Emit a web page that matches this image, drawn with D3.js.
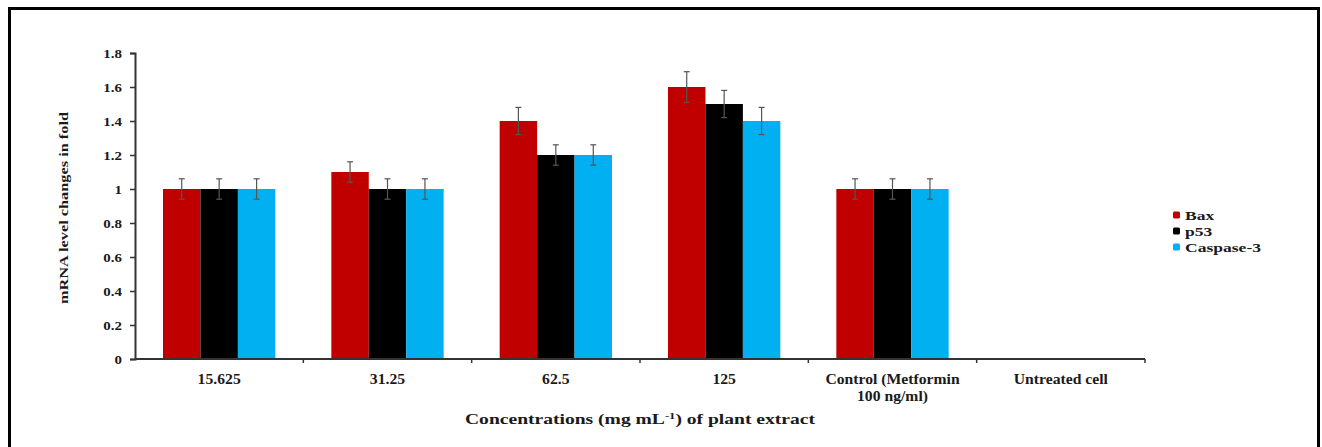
<!DOCTYPE html>
<html><head><meta charset="utf-8">
<script src="https://cdn.jsdelivr.net/npm/d3@7"></script>
<style>
html,body{margin:0;padding:0;background:#fff;}
svg{display:block;}
text{font-family:"Liberation Serif","Times New Roman",serif;font-weight:bold;fill:#1a1a1a;}
</style></head>
<body>
<svg id="chart" width="1322" height="447"></svg>
<script>
const categories = ["15.625", "31.25", "62.5", "125", "Control (Metformin|100 ng/ml)", "Untreated cell"];
const seriesNames = ["Bax", "p53", "Caspase-3"];
const baxValues = [1.0, 1.1, 1.4, 1.6, 1.0, null];
const p53Values = [1.0, 1.0, 1.2, 1.5, 1.0, null];
const caspaseValues = [1.0, 1.0, 1.2, 1.4, 1.0, null];
const baxErrors = [0.06, 0.06, 0.08, 0.09, 0.06, null];
const p53Errors = [0.06, 0.06, 0.06, 0.08, 0.06, null];
const caspaseErrors = [0.06, 0.06, 0.06, 0.08, 0.06, null];
const yTicks = [0, 0.2, 0.4, 0.6, 0.8, 1, 1.2, 1.4, 1.6, 1.8];
const colors = ["#C00000", "#000000", "#00B0F0"];

const seriesValues = [baxValues, p53Values, caspaseValues];
const seriesErrors = [baxErrors, p53Errors, caspaseErrors];

const svg = d3.select("#chart");

// frame
svg.append("rect").attr("x", 9.5).attr("y", 8.5).attr("width", 1309).attr("height", 470)
  .attr("fill", "none").attr("stroke", "#000").attr("stroke-width", 3);

const plotLeft = 135, plotRight = 1145, plotTop = 53, plotBottom = 359;
const x0 = d3.scaleBand().domain(categories).range([plotLeft, plotRight]).padding(0);
const bw = x0.bandwidth();
const x1 = d3.scaleBand().domain(seriesNames).range([28, bw - 28]).padding(0);
const y = d3.scaleLinear().domain([0, 1.8]).range([plotBottom, plotTop]);

// bars
const data = [];
categories.forEach((c, i) => {
  seriesNames.forEach((s, j) => {
    const v = seriesValues[j][i];
    if (v != null) data.push({c, s, v, e: seriesErrors[j][i], color: colors[j]});
  });
});

svg.append("g").selectAll("rect").data(data).join("rect")
  .attr("x", d => x0(d.c) + x1(d.s))
  .attr("y", d => y(d.v))
  .attr("width", x1.bandwidth())
  .attr("height", d => y(0) - y(d.v))
  .attr("fill", d => d.color);

// error bars
const eg = svg.append("g").attr("stroke", "#555").attr("stroke-width", 1.2);
data.forEach(d => {
  const cx = x0(d.c) + x1(d.s) + x1.bandwidth() / 2;
  eg.append("line").attr("x1", cx).attr("x2", cx).attr("y1", y(d.v + d.e)).attr("y2", y(d.v - d.e));
  eg.append("line").attr("x1", cx - 3).attr("x2", cx + 3).attr("y1", y(d.v + d.e)).attr("y2", y(d.v + d.e));
  eg.append("line").attr("x1", cx - 3).attr("x2", cx + 3).attr("y1", y(d.v - d.e)).attr("y2", y(d.v - d.e));
});

// y axis
const yAxis = d3.axisLeft(y).tickValues(yTicks).tickSize(5).tickPadding(8)
  .tickFormat(d => d3.format("~g")(d));
const yg = svg.append("g").attr("transform", `translate(${plotLeft},0)`).call(yAxis);
yg.select(".domain").attr("stroke", "#333").attr("stroke-width", 2);
yg.selectAll(".tick line").attr("stroke", "#333").attr("stroke-width", 1.5);
yg.selectAll(".tick text").style("font-size", "13px").attr("fill", "#1a1a1a")
  .style("font-family", "'Liberation Serif',serif").style("font-weight", "bold")
  .attr("transform", "scale(1.15,1)")
  .attr("x", -13 / 1.15);

// x axis line
svg.append("line").attr("x1", plotLeft).attr("x2", plotRight).attr("y1", plotBottom).attr("y2", plotBottom)
  .attr("stroke", "#333").attr("stroke-width", 2);
// x ticks at band boundaries
const bounds = categories.map(c => x0(c) + bw);
svg.append("g").selectAll("line").data(bounds).join("line")
  .attr("x1", d => d).attr("x2", d => d).attr("y1", plotBottom).attr("y2", plotBottom + 4)
  .attr("stroke", "#333").attr("stroke-width", 1.5);

// category labels
const cl = svg.append("g");
categories.forEach(c => {
  const lines = c.split("|");
  const cx = x0(c) + bw / 2;
  lines.forEach((t, k) => {
    cl.append("text").attr("transform", `translate(${cx},${384 + k * 17}) scale(1.12,1)`)
      .attr("text-anchor", "middle").style("font-size", "14px").text(t);
  });
});

// x title
const xt = svg.append("text").attr("transform", `translate(${(plotLeft + plotRight) / 2},424)`)
  .attr("text-anchor", "middle").style("font-size", "14px")
  .attr("textLength", 350).attr("lengthAdjust", "spacingAndGlyphs");
xt.append("tspan").text("Concentrations (mg mL");
xt.append("tspan").attr("dy", -5).style("font-size", "9px").text("-1");
xt.append("tspan").attr("dy", 5).text(")  of  plant extract");

// y title
svg.append("text").attr("transform", "translate(68,208) rotate(-90)")
  .attr("text-anchor", "middle").style("font-size", "13px")
  .attr("textLength", 192).attr("lengthAdjust", "spacingAndGlyphs")
  .text("mRNA level changes in fold");

// legend
const lg = svg.append("g");
seriesNames.forEach((s, i) => {
  const cy = 215 + i * 16;
  lg.append("rect").attr("x", 1173).attr("y", cy - 3.5).attr("width", 7).attr("height", 7)
    .attr("rx", 1.5).attr("fill", colors[i]);
  lg.append("text").attr("transform", `translate(1185,${cy + 4.5}) scale(1.35,1)`)
    .style("font-size", "13px").text(s);
});
</script>
</body></html>
